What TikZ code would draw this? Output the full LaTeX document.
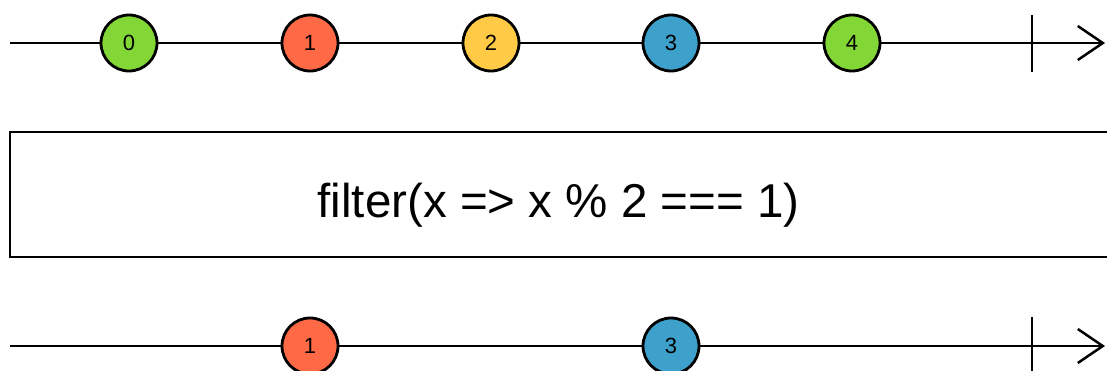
\documentclass[tikz,border=0pt]{standalone}
\usepackage{fontspec}
\setmainfont{Liberation Sans}
\usetikzlibrary{arrows.meta}
\definecolor{mgreen}{HTML}{82D736}
\definecolor{mred}{HTML}{FF6946}
\definecolor{myellow}{HTML}{FFCB46}
\definecolor{mblue}{HTML}{3EA1CB}
\begin{document}
\begin{tikzpicture}[x=1pt,y=-1pt,
  marble/.style={circle,draw=black,line width=2.8pt,minimum size=56pt,inner sep=0pt,font=\fontsize{22}{26}\selectfont},
  timeline/.style={line width=2.5pt,-{Straight Barb[length=25pt,width=34pt,line width=2.5pt]}},
  endtick/.style={line width=2.5pt},
  opbox/.style={draw=black,line width=2.6pt,fill=white}]
\clip (0,0) rectangle (1107,370);
\fill[white] (0,0) rectangle (1107,370);
% top timeline
\coordinate (ts) at (10,43);
\coordinate (te) at (1105,43);
\draw[timeline] (ts) -- (te);
\coordinate (tt1) at (1032,15);
\coordinate (tt2) at (1032,72);
\draw[endtick] (tt1) -- (tt2);
\node[marble,fill=mgreen] (a0) at (129,43) {0};
\node[marble,fill=mred] (a1) at (310,43) {1};
\node[marble,fill=myellow] (a2) at (491,43) {2};
\node[marble,fill=mblue] (a3) at (671,43) {3};
\node[marble,fill=mgreen] (a4) at (852,43) {4};
% operator box
\draw[opbox] (10,132) rectangle (1108,257);
\node[anchor=base,inner sep=0pt,font=\fontsize{47.5}{56}\selectfont] (op) at (558.5,217) {filter(x => x \% 2 === 1)};
% bottom timeline
\coordinate (bs) at (10,346);
\coordinate (be) at (1105,346);
\draw[timeline] (bs) -- (be);
\coordinate (bt1) at (1032,317);
\coordinate (bt2) at (1032,375);
\draw[endtick] (bt1) -- (bt2);
\node[marble,fill=mred] (b1) at (310,346) {1};
\node[marble,fill=mblue] (b3) at (671,346) {3};
\end{tikzpicture}
\end{document}
